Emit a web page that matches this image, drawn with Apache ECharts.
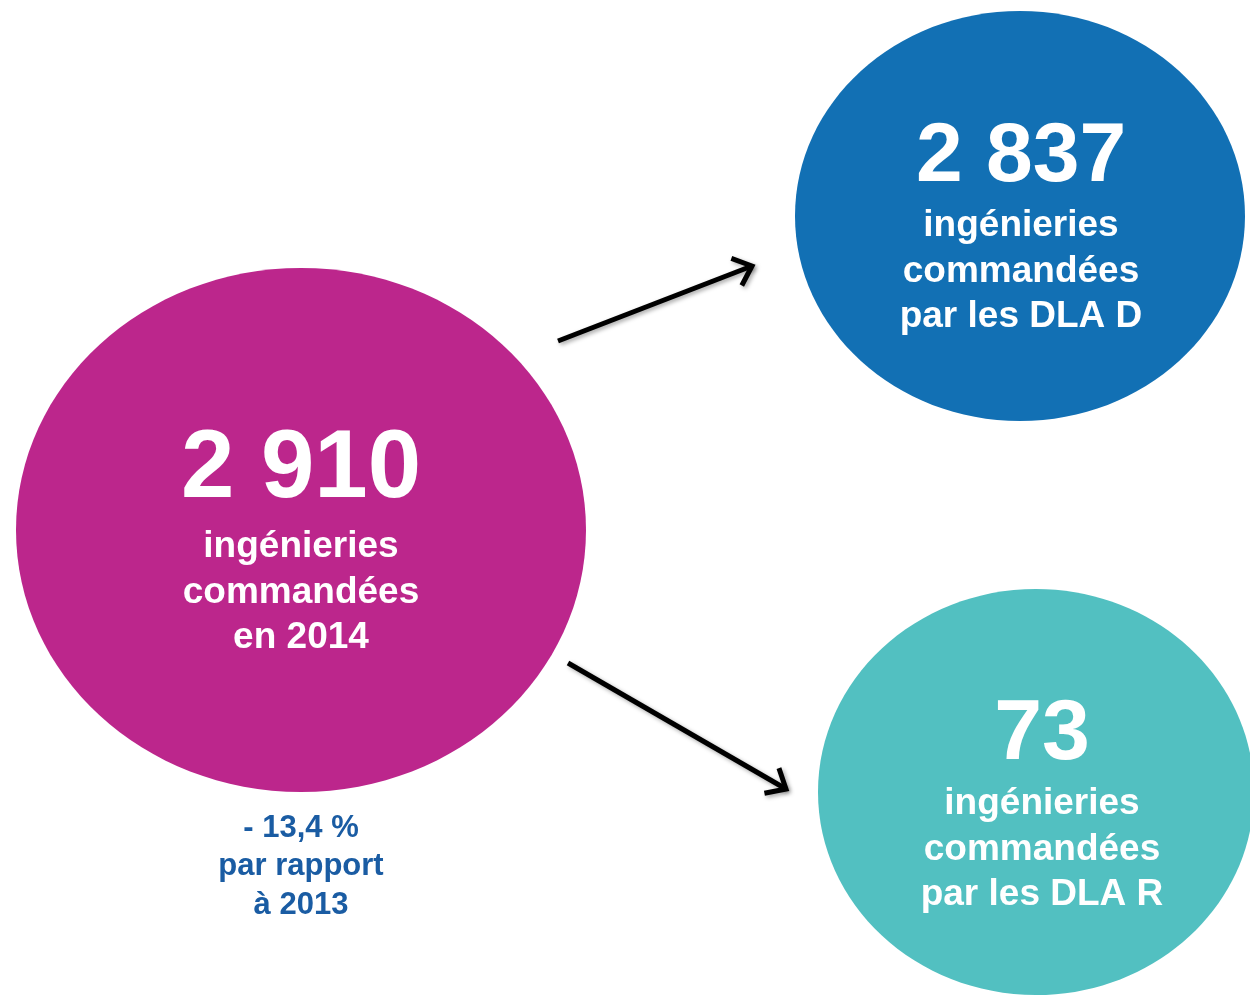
<!DOCTYPE html>
<html>
<head>
<meta charset="utf-8">
<script src="https://cdn.jsdelivr.net/npm/echarts@6/dist/echarts.min.js"></script>
<style>
  html, body { margin: 0; padding: 0; background: #fff; }
  #chart { width: 1250px; height: 997px; }
</style>
</head>
<body>
<div id="chart"></div>
<script>
const totals = [2910, 2837, 73]
const captions = [
  ['ingénieries', 'commandées', 'en 2014'],
  ['ingénieries', 'commandées', 'par les DLA D'],
  ['ingénieries', 'commandées', 'par les DLA R'],
]
const changeLines = ['- 13,4 %', 'par rapport', 'à 2013']
// flèches : index bulle source -> index bulle cible
const flows = [[0, 1], [0, 2]]

// mise en page (pixels du repère 1250 x 997)
const bubbleLayout = [
  { cx: 301, cy: 530, rx: 285, ry: 262, color: '#BC268C', textX: 301, numY: 471, numSize: 96, lineY: 547 },
  { cx: 1020, cy: 216, rx: 225, ry: 205, color: '#1270B4', textX: 1021, numY: 158, numSize: 84, lineY: 226 },
  { cx: 1036, cy: 792, rx: 218, ry: 203, color: '#52C0C1', textX: 1042, numY: 735, numSize: 86, lineY: 804 },
]
const arrowLayout = [
  { from: [558, 341], to: [752, 266] },
  { from: [568, 663], to: [786, 789] },
]

const fmt = (v) => String(v).replace(/\B(?=(\d{3})+(?!\d))/g, ' ')
const FONT = '"Liberation Sans", Arial, sans-serif'

const chart = echarts.init(document.getElementById('chart'))

function text(str, x, y, size, fill) {
  return {
    type: 'text',
    style: {
      text: str, x, y, fill,
      font: `bold ${size}px ${FONT}`,
      align: 'center', verticalAlign: 'middle',
      textAlign: 'center', textVerticalAlign: 'middle',
    },
  }
}

chart.setOption({
  animation: false,
  backgroundColor: '#fff',
  grid: { left: 0, right: 0, top: 0, bottom: 0 },
  xAxis: { type: 'value', min: 0, max: 1250, show: false },
  yAxis: { type: 'value', min: 0, max: 997, inverse: true, show: false },
  series: [
    {
      type: 'custom',
      coordinateSystem: 'cartesian2d',
      data: totals.map((v, i) => [i, v]),
      renderItem(params, api) {
        const i = api.value(0)
        const b = bubbleLayout[i]
        const c = api.coord([b.cx, b.cy])
        const tx = api.coord([b.textX, 0])[0]
        const children = [
          { type: 'ellipse', shape: { cx: c[0], cy: c[1], rx: b.rx, ry: b.ry }, style: { fill: b.color } },
          text(fmt(api.value(1)), tx, api.coord([0, b.numY])[1], b.numSize, '#fff'),
        ]
        captions[i].forEach((s, k) => {
          children.push(text(s, tx, api.coord([0, b.lineY + k * 45.5])[1], 37, '#fff'))
        })
        if (i === 0) {
          changeLines.forEach((s, k) => {
            children.push(text(s, tx, api.coord([0, 828 + k * 38.5])[1], 31, '#1A5CA3'))
          })
        }
        return { type: 'group', children }
      },
    },
    {
      type: 'custom',
      coordinateSystem: 'cartesian2d',
      data: flows,
      renderItem(params, api) {
        const a = arrowLayout[params.dataIndex]
        const p0 = api.coord(a.from)
        const p1 = api.coord(a.to)
        const ang = Math.atan2(p1[1] - p0[1], p1[0] - p0[0])
        const L = 22, spread = 0.72
        const h1 = [p1[0] - L * Math.cos(ang - spread), p1[1] - L * Math.sin(ang - spread)]
        const h2 = [p1[0] - L * Math.cos(ang + spread), p1[1] - L * Math.sin(ang + spread)]
        const st = {
          stroke: '#000', lineWidth: 5, fill: null, lineJoin: 'miter', lineCap: 'butt',
          shadowBlur: 4, shadowColor: 'rgba(0,0,0,0.35)', shadowOffsetX: 2, shadowOffsetY: 2,
        }
        return {
          type: 'group',
          children: [
            { type: 'line', shape: { x1: p0[0], y1: p0[1], x2: p1[0], y2: p1[1] }, style: st },
            { type: 'polyline', shape: { points: [h1, p1, h2] }, style: st },
          ],
        }
      },
    },
  ],
})
</script>
</body>
</html>
